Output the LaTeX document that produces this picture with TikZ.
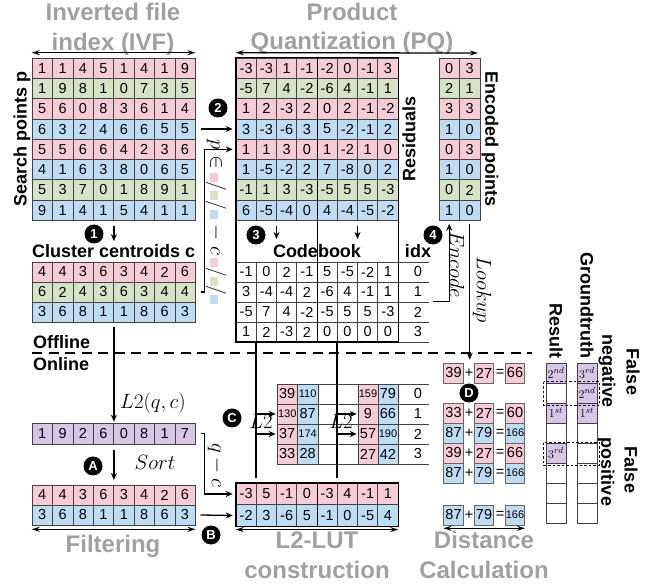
\documentclass[tikz,border=0pt]{standalone}
\usepackage{fontspec}
\setmainfont{Liberation Sans}
\usetikzlibrary{arrows.meta}
\definecolor{pinkc}{RGB}{248,204,214}
\definecolor{greenc}{RGB}{214,227,198}
\definecolor{bluec}{RGB}{190,221,245}
\definecolor{purpc}{RGB}{217,197,232}
\definecolor{titlegray}{RGB}{160,160,160}
\newcommand{\fsz}[1]{\fontsize{#1}{#1}\selectfont}
\newcommand{\sm}[1]{{\fsz{11}#1}}
\newcommand{\sw}[1]{\textcolor{#1}{\rule[-0.5pt]{9pt}{8pt}}}
\newcommand{\gridrow}[7]{%
  \foreach \v [count=\i] in {#7} {%
    \node[cell,fill=#6,minimum width=#4pt,minimum height=#5pt] (#1-\i) at ({#2+#4*(\i-0.5)},#3) {\v};
  }%
}
\begin{document}
\begin{tikzpicture}[x=1pt,y=-1pt,
  cell/.style={draw=black!75,line width=0.6pt,inner sep=0pt,font=\fsz{14.5}},
  arr/.style={line width=1.3pt,-{Stealth[length=7pt,width=6pt]}},
  dbl/.style={line width=1.3pt,{Stealth[length=8pt,width=5pt]}-{Stealth[length=8pt,width=5pt]}},
  ln/.style={line width=1.3pt},
  thickbox/.style={line width=1.6pt},
  thinln/.style={draw=black!75,line width=0.6pt},
  stepc/.style={circle,fill=black,text=white,font=\bfseries\fsz{13},minimum size=19pt,inner sep=0pt},
  lbl/.style={font=\bfseries\fsz{18},inner sep=0pt},
  ttl/.style={font=\bfseries\fsz{24},text=titlegray,anchor=base,inner sep=0pt},
  mlbl/.style={font=\fsz{20},inner sep=0pt},
  dbox/.style={draw=black!60,line width=0.6pt,minimum width=19.5pt,minimum height=20pt,inner sep=0pt,font=\fsz{14.5}},
  rcell/.style={cell,minimum width=20pt,minimum height=20pt,font=\fsz{13}},
  dashbox/.style={draw=black,line width=0.6pt,dash pattern=on 2.5pt off 2pt}
]
\useasboundingbox (0,0) rectangle (665,588);

% ---------- titles ----------
\node[ttl] (t1) at (113,21) {Inverted file};
\node[ttl] (t2) at (113,51) {index (IVF)};
\node[ttl] (t3) at (352,21) {Product};
\node[ttl] (t4) at (352,50) {Quantization (PQ)};
\node[ttl] (t5) at (113,552) {Filtering};
\node[ttl] (t6) at (317,548) {L2-LUT};
\node[ttl] (t7) at (317,578) {construction};
\node[ttl] (t8) at (484,548) {Distance};
\node[ttl] (t9) at (484,578) {Calculation};

% ---------- IVF ----------
\gridrow{ivf1}{32}{68.15}{20.4}{20.3}{pinkc}{1,1,4,5,1,4,1,9}
\gridrow{ivf2}{32}{88.45}{20.4}{20.3}{greenc}{1,9,8,1,0,7,3,5}
\gridrow{ivf3}{32}{108.75}{20.4}{20.3}{pinkc}{5,6,0,8,3,6,1,4}
\gridrow{ivf4}{32}{129.05}{20.4}{20.3}{bluec}{6,3,2,4,6,6,5,5}
\gridrow{ivf5}{32}{149.35}{20.4}{20.3}{pinkc}{5,5,6,6,4,2,3,6}
\gridrow{ivf6}{32}{169.65}{20.4}{20.3}{bluec}{4,1,6,3,8,0,6,5}
\gridrow{ivf7}{32}{189.95}{20.4}{20.3}{greenc}{5,3,7,0,1,8,9,1}
\gridrow{ivf8}{32}{210.25}{20.4}{20.3}{bluec}{9,1,4,1,5,4,1,1}
\node[lbl,rotate=90] (sp) at (22,139) {Search points p};
\draw[dbl] ([yshift=5pt]ivf1-1.north west) -- ([yshift=5pt]ivf1-8.north east);

% centroids
\node[stepc] (s1) at (94,234) {1};
\node[lbl] (cc) at (113.6,251) {Cluster centroids c};
\draw[arr] ([yshift=-5pt]ivf8-4.south east) -- ([yshift=3pt]cc.north -| ivf8-4.south east);
\gridrow{cen1}{32}{272}{20.4}{20}{pinkc}{4,4,3,6,3,4,2,6}
\gridrow{cen2}{32}{292}{20.4}{20}{greenc}{6,2,4,3,6,3,4,4}
\gridrow{cen3}{32}{312}{20.4}{20}{bluec}{3,6,8,1,1,8,6,3}

% ---------- residuals ----------
\gridrow{res1}{236}{68.15}{20.25}{20.3}{pinkc}{-3,-3,1,-1,-2,0,-1,3}
\gridrow{res2}{236}{88.45}{20.25}{20.3}{greenc}{-5,7,4,-2,-6,4,-1,1}
\gridrow{res3}{236}{108.75}{20.25}{20.3}{pinkc}{1,2,-3,2,0,2,-1,-2}
\gridrow{res4}{236}{129.05}{20.25}{20.3}{bluec}{3,-3,-6,3,5,-2,-1,2}
\gridrow{res5}{236}{149.35}{20.25}{20.3}{pinkc}{1,1,3,0,1,-2,1,0}
\gridrow{res6}{236}{169.65}{20.25}{20.3}{bluec}{1,-5,-2,2,7,-8,0,2}
\gridrow{res7}{236}{189.95}{20.25}{20.3}{greenc}{-1,1,3,-3,-5,5,5,-3}
\gridrow{res8}{236}{210.25}{20.25}{20.3}{bluec}{6,-5,-4,0,4,-4,-5,-2}
\node[lbl,rotate=90] (resl) at (409,139) {Residuals};

% codebook
\gridrow{cb1}{236}{272}{20.25}{20}{white}{-1,0,2,-1,5,-5,-2,1}
\gridrow{cb2}{236}{292}{20.25}{20}{white}{3,-4,-4,2,-6,4,-1,1}
\gridrow{cb3}{236}{312}{20.25}{20}{white}{-5,7,4,-2,-5,5,5,-3}
\gridrow{cb4}{236}{332}{20.25}{20}{white}{1,2,-3,2,0,0,0,0}
\foreach \y in {262,282,302,322,342} \draw[thinln] (398,\y) -- (429,\y);
\foreach \k [count=\r] in {0,1,2,3} \node[font=\fsz{14.5},inner sep=0pt] (idx\r) at (418,{252+20*\r}) {\k};
\node[lbl] (cbl) at (317,251) {Codebook};
\node[lbl] (idxl) at (418,251) {idx};
\node[stepc] (s3) at (256,235) {3};
\draw[arr] (276.5,226) -- (276.5,239);
\draw[arr] (357.5,226) -- (357.5,239);
\draw[thickbox] (res1-1.north west) rectangle (cb4-8.south east);
\draw[thickbox] (res1-4.north east) -- (cb4-4.south east);
\draw[dbl] ([yshift=5pt]res1-1.north west) -- (478,53);

% encoded points
\gridrow{enc1}{439}{68.15}{20.5}{20.3}{pinkc}{0,3}
\gridrow{enc2}{439}{88.45}{20.5}{20.3}{greenc}{2,1}
\gridrow{enc3}{439}{108.75}{20.5}{20.3}{pinkc}{3,3}
\gridrow{enc4}{439}{129.05}{20.5}{20.3}{bluec}{1,0}
\gridrow{enc5}{439}{149.35}{20.5}{20.3}{pinkc}{0,3}
\gridrow{enc6}{439}{169.65}{20.5}{20.3}{bluec}{1,0}
\gridrow{enc7}{439}{189.95}{20.5}{20.3}{greenc}{0,2}
\gridrow{enc8}{439}{210.25}{20.5}{20.3}{bluec}{1,0}
\node[lbl,rotate=-90] (encl) at (490,139) {Encoded points};

% step 2 and residual arrow
\node[stepc] (s2) at (218,108) {2};
\draw[arr] ([xshift=5pt]ivf4-8.east) -- ([xshift=-3pt]res4-1.west);
\draw[arr] ([xshift=5pt]cen2-8.east) -- ++(4,0) |- ([xshift=-3pt]res5-1.west);
\node[mlbl,rotate=-90] (pcl) at (216,222) {$p\in$\,\sw{pinkc}$/$\sw{greenc}$/$\sw{bluec}\;$-$\;$c$\,\sw{pinkc}$/$\sw{greenc}$/$\sw{bluec}};

% encode
\coordinate (encs) at (433,301.5);
\node[stepc] (s4) at (433,235) {4};
\draw[arr] (encs) -| ([yshift=-3pt]enc8-1.south);
\node[mlbl,rotate=-90] (encode) at (457,265) {$Encode$};

% ---------- offline / online ----------
\node[lbl,anchor=west] (off) at (33,342) {Offline};
\node[lbl,anchor=west] (on) at (33,364) {Online};
\coordinate (dl1) at (32,353);
\coordinate (dl2) at (532,353);
\draw[line width=2.4pt,dash pattern=on 10pt off 6.5pt] (dl1) -- (dl2);

% ---------- filtering ----------
\gridrow{purp}{32}{433.5}{20.4}{21}{purpc}{1,9,2,6,0,8,1,7}
\draw[arr] ([yshift=-5pt]cen3-4.south east) -- ([yshift=1pt]purp-4.north east);
\node[mlbl] (l2qc) at (153,403) {$L2(q,c)$};
\node[stepc] (sA) at (93,466) {A};
\draw[arr] ([yshift=-6pt]purp-4.south east) -- ([yshift=5pt]purp-4.south east |- 0,485);
\node[mlbl] (sortl) at (155,462) {$Sort$};
\gridrow{fp}{32}{495}{20.4}{20}{pinkc}{4,4,3,6,3,4,2,6}
\gridrow{fb}{32}{515}{20.4}{20}{bluec}{3,6,8,1,1,8,6,3}
\draw[dbl] ([yshift=-4pt]fb-1.south west) -- ([yshift=-4pt]fb-8.south east);

% ---------- L2-LUT ----------
\gridrow{lp}{236}{494}{20.25}{21.5}{pinkc}{-3,5,-1,0,-3,4,-1,1}
\gridrow{lb}{236}{515.5}{20.25}{21.5}{bluec}{-2,3,-6,5,-1,0,-5,4}
\draw[thickbox] (lp-1.north west) rectangle (lb-8.south east);
\draw[thickbox] (lp-4.north east) -- (lb-4.south east);
\draw[dbl] ([yshift=-3pt]lb-1.south west) -- ([yshift=-3pt]lb-8.south east);
\draw[arr] ([xshift=5pt]purp-8.east) -- ++(4,0) |- ([xshift=-3pt]lp-1.west);
\node[mlbl,rotate=-90] (qcl) at (216,465) {$q-c$};
\draw[arr] ([xshift=5pt]fb-8.east) -- ([xshift=-3pt]lb-1.west);
\node[stepc] (sB) at (211,535) {B};

% small LUT tables
\foreach \a/\b [count=\r] in {39/\sm{110},\sm{130}/87,37/\sm{174},33/28} {
  \node[cell,fill=pinkc,minimum width=20.4pt,minimum height=20pt] (la\r) at (287.2,{374+20*\r}) {\a};
  \node[cell,fill=bluec,minimum width=20.4pt,minimum height=20pt] (lb\r) at (307.6,{374+20*\r}) {\b};
}
\foreach \a/\b [count=\r] in {\sm{159}/79,9/66,57/\sm{190},27/42} {
  \node[cell,fill=pinkc,minimum width=20pt,minimum height=20pt] (ra\r) at (368,{374+20*\r}) {\a};
  \node[cell,fill=bluec,minimum width=20pt,minimum height=20pt] (rb\r) at (388,{374+20*\r}) {\b};
}
\foreach \y in {384,404,424,444,464} \draw[thinln] (318,\y) -- (358,\y) (398,\y) -- (429,\y);
\foreach \k [count=\r] in {0,1,2,3} \node[font=\fsz{14.5},inner sep=0pt] (lidx\r) at (418,{374+20*\r}) {\k};

% codebook to LUT lines
\draw[ln] (cb4-2.south west) -- ([yshift=5pt]lp-2.north west);
\draw[ln] (cb4-6.south west) -- ([yshift=5pt]lp-6.north west);
\draw[arr] (la2.west -| cb4-2.south west) -- ([xshift=-1pt]la2.west);
\draw[arr] (la3.west -| cb4-2.south west) -- ([xshift=-1pt]la3.west);
\draw[arr] (ra2.west -| cb4-6.south west) -- ([xshift=-1pt]ra2.west);
\draw[arr] (ra3.west -| cb4-6.south west) -- ([xshift=-1pt]ra3.west);
\node[font=\fsz{20},inner sep=0pt] (l2a) at (261,421) {$L2$};
\node[font=\fsz{20},inner sep=0pt] (l2b) at (341,421) {$L2$};
\node[stepc] (sC) at (232,418) {C};

% ---------- distance calculation ----------
\foreach \y/\a/\b/\c/\f [count=\r] in {373/39/27/66/pinkc,413/33/27/60/pinkc,433/87/79/\sm{166}/bluec,453/39/27/66/pinkc,473/87/79/\sm{166}/bluec,515/87/79/\sm{166}/bluec} {
  \node[dbox,fill=\f] (da\r) at (453.5,\y) {\a};
  \node[dbox,fill=\f] (db\r) at (484,\y) {\b};
  \node[dbox,fill=\f] (dc\r) at (515,\y) {\c};
  \node[font=\fsz{14.5},inner sep=0pt] (dp\r) at (469,\y) {+};
  \node[font=\fsz{14.5},inner sep=0pt] (de\r) at (500,\y) {=};
}
\draw[arr] ([yshift=-3pt]enc8-2.south) -- ([yshift=3pt]enc8-2.south |- da1.north);
\node[mlbl,rotate=-90] (lookup) at (482,290) {$Lookup$};
\node[stepc] (sD) at (469,393) {D};
\draw[dbl] ([yshift=-3pt]da6.south west) -- ([yshift=-3pt]dc6.south east);

% ---------- result / groundtruth ----------
\foreach \t/\f [count=\r] in {$2^{nd}$/purpc,/white,$1^{st}$/purpc,/white,$3^{rd}$/purpc,/white,/white,/white} {
  \node[rcell,fill=\f] (rs\r) at (556,{353+20*\r}) {\t};
}
\foreach \t/\f [count=\r] in {$3^{rd}$/purpc,$2^{nd}$/purpc,$1^{st}$/purpc,/white,/white,/white,/white,/white} {
  \node[rcell,fill=\f] (gt\r) at (587,{353+20*\r}) {\t};
}
\node[lbl,rotate=-90,anchor=east] (resultl) at (556,359) {Result};
\node[lbl,rotate=-90,anchor=east] (gtl) at (587,359) {Groundtruth};
\draw[dashbox] ([xshift=-2pt,yshift=1pt]rs2.north west) rectangle ([xshift=2pt,yshift=-2pt]gt2.south east);
\draw[dashbox] ([xshift=-2pt,yshift=0pt]rs5.north west) rectangle ([xshift=2pt,yshift=-2pt]gt5.south east);
\node[lbl,rotate=-90] (fn1) at (633,372) {False};
\node[lbl,rotate=-90] (fn2) at (607,371) {negative};
\node[lbl,rotate=-90] (fp1) at (631,470) {False};
\node[lbl,rotate=-90] (fp2) at (606,472) {positive};
\end{tikzpicture}
\end{document}
